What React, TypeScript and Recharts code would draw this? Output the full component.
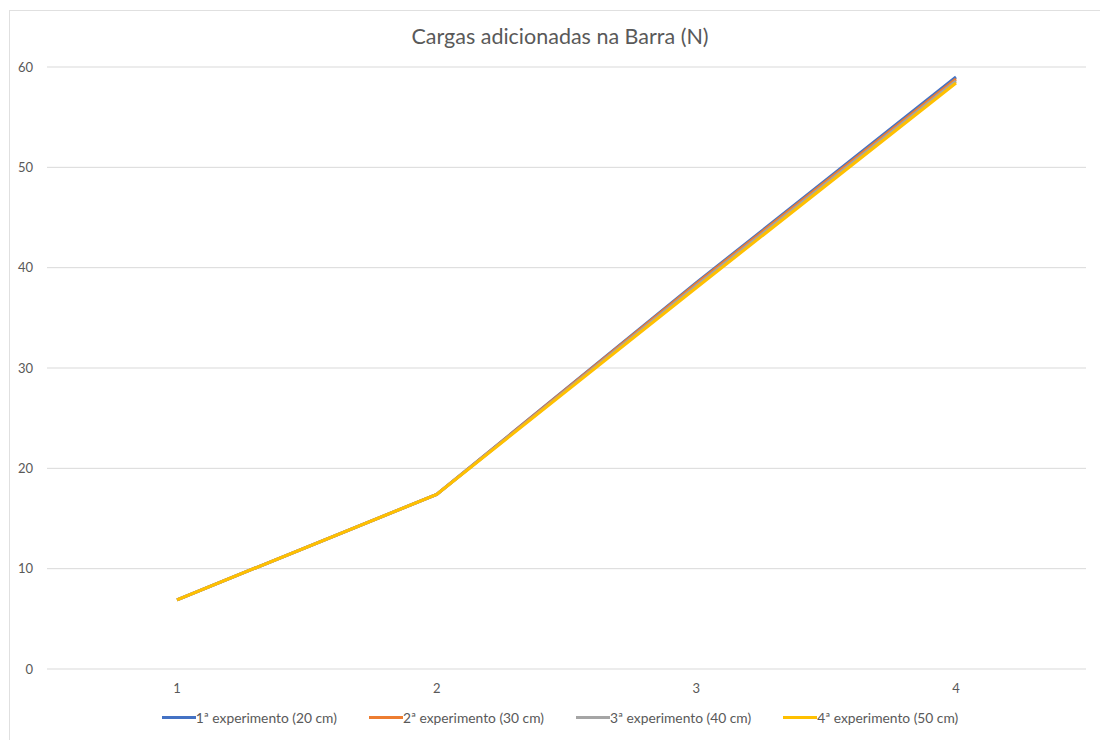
import { LineChart, Line, XAxis, YAxis, CartesianGrid } from "recharts";

const categories = ["1", "2", "3", "4"];
const exp20 = [6.9, 17.4, 38.5, 59.0];
const exp30 = [6.9, 17.4, 38.4, 58.8];
const exp40 = [6.9, 17.4, 38.2, 58.6];
const exp50 = [6.9, 17.4, 38.0, 58.4];
const yTicks = [0, 10, 20, 30, 40, 50, 60];

const series = [
  { key: "e1", name: "1ª experimento (20 cm)", color: "#4472C4", values: exp20 },
  { key: "e2", name: "2ª experimento (30 cm)", color: "#ED7D31", values: exp30 },
  { key: "e3", name: "3ª experimento (40 cm)", color: "#A5A5A5", values: exp40 },
  { key: "e4", name: "4ª experimento (50 cm)", color: "#FFC000", values: exp50 },
];

const data = categories.map((c, i) => {
  const row: any = { cat: c };
  series.forEach((s) => (row[s.key] = s.values[i]));
  return row;
});

const font = "Lato, 'Liberation Sans', sans-serif";

export default function App() {
  return (
    <div style={{ position: "absolute", left: 0, top: 0, width: 1100, height: 740, background: "#fff", overflow: "hidden" }}>
      {/* page borders from the document */}
      <div style={{ position: "absolute", left: 9, top: 10, width: 1091, height: 730, borderTop: "1px solid #e0e0e0", borderLeft: "1px solid #e0e0e0" }} />
      <div
        style={{
          position: "absolute",
          top: 23,
          left: 0,
          width: 1120,
          textAlign: "center",
          fontFamily: font,
          fontSize: 21.5,
          color: "#595959",
        }}
      >
        Cargas adicionadas na Barra (N)
      </div>
      <LineChart
        width={1100}
        height={740}
        data={data}
        margin={{ top: 67, right: 14, bottom: 41, left: 17 }}
        style={{ position: "absolute", left: 0, top: 0 }}
      >
        <CartesianGrid vertical={false} stroke="#d9d9d9" />
        <XAxis
          dataKey="cat"
          axisLine={false}
          tickLine={false}
          height={30}
          tickMargin={9}
          padding={{ left: 130, right: 130 }}
          tick={{ fill: "#595959", fontSize: 13, fontFamily: font }}
        />
        <YAxis
          domain={[0, 60]}
          ticks={yTicks}
          width={30}
          axisLine={false}
          tickLine={false}
          tickSize={0}
          tickMargin={14}
          tick={{ fill: "#595959", fontSize: 13, fontFamily: font }}
        />
        {series.map((s) => (
          <Line
            key={s.key}
            type="linear"
            dataKey={s.key}
            name={s.name}
            stroke={s.color}
            strokeWidth={3}
            dot={false}
            activeDot={false}
            isAnimationActive={false}
          />
        ))}
      </LineChart>
      <div
        style={{
          position: "absolute",
          top: 709,
          left: 0,
          width: 1120,
          display: "flex",
          justifyContent: "center",
          gap: 32,
          fontFamily: font,
          fontSize: 13.8,
          color: "#595959",
        }}
      >
        {series.map((s) => (
          <div key={s.key} style={{ display: "flex", alignItems: "center" }}>
            <span style={{ display: "inline-block", width: 34, height: 3, background: s.color }} />
            <span>{s.name}</span>
          </div>
        ))}
      </div>
    </div>
  );
}
